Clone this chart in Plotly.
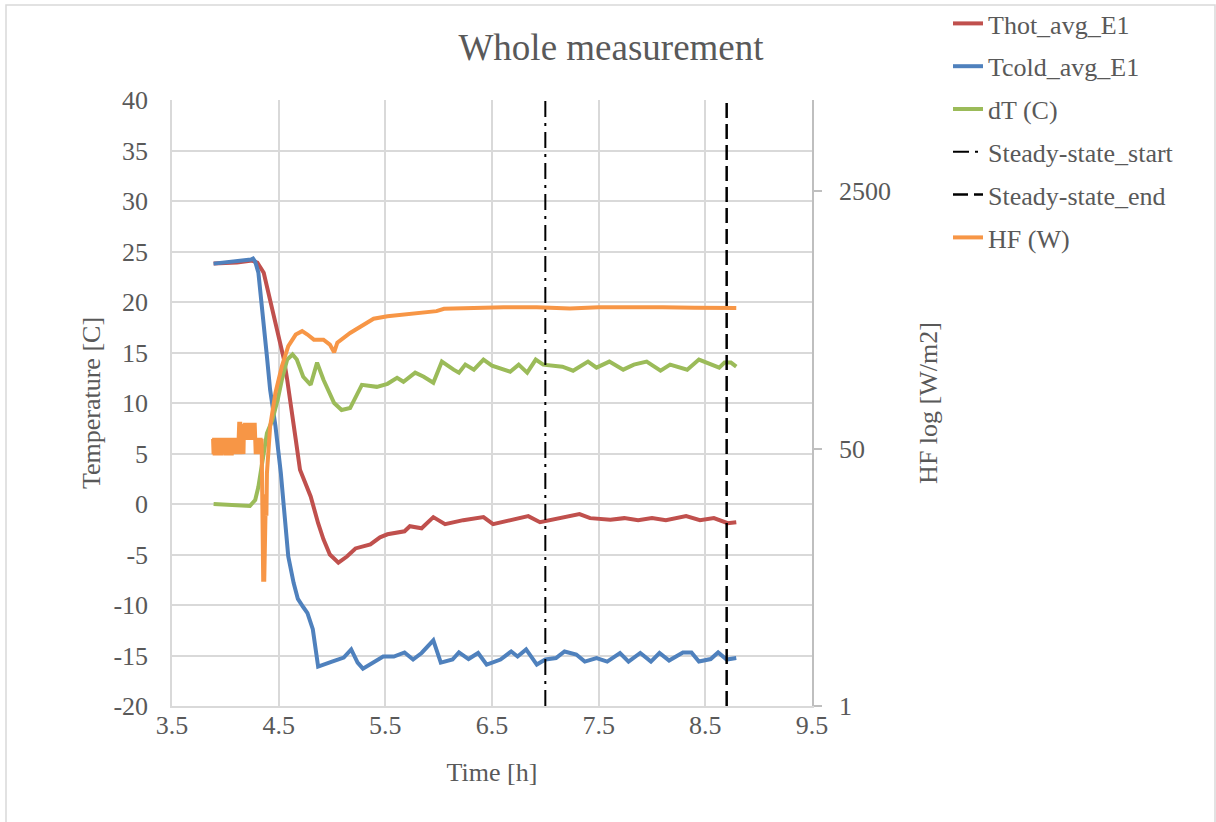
import plotly.graph_objects as go

# ---------------- data ----------------
t_hot = [3.89, 4.11, 4.25, 4.30, 4.36, 4.42, 4.49, 4.55, 4.58, 4.63, 4.66, 4.70, 4.80, 4.87, 4.92,
         4.98, 5.06, 5.14, 5.22, 5.36, 5.45, 5.52, 5.68, 5.73, 5.84, 5.95, 6.06, 6.23, 6.42, 6.51,
         6.70, 6.84, 6.95, 7.15, 7.32, 7.42, 7.61, 7.74, 7.87, 8.00, 8.13, 8.32, 8.45, 8.58, 8.71, 8.79]
thot = [23.8, 23.9, 24.1, 23.9, 22.9, 20.2, 16.9, 14.3, 12.3, 9.0, 6.4, 3.4, 0.75, -1.9, -3.5,
        -5.0, -5.8, -5.2, -4.4, -4.0, -3.3, -3.0, -2.7, -2.2, -2.4, -1.3, -2.0, -1.6, -1.3, -2.0,
        -1.5, -1.2, -1.8, -1.4, -1.0, -1.4, -1.55, -1.4, -1.6, -1.4, -1.6, -1.2, -1.6, -1.4, -1.9, -1.8]

t_cold = [3.89, 4.0, 4.1, 4.2, 4.24, 4.26, 4.28, 4.31, 4.36, 4.39, 4.42, 4.47, 4.52, 4.56, 4.59,
          4.64, 4.68, 4.73, 4.77, 4.82, 4.87, 5.0, 5.11, 5.18, 5.24, 5.29, 5.39, 5.48, 5.58, 5.68,
          5.76, 5.84, 5.95, 6.02, 6.13, 6.19, 6.28, 6.37, 6.45, 6.58, 6.68, 6.74, 6.82, 6.92, 7.0,
          7.10, 7.18, 7.29, 7.37, 7.48, 7.58, 7.70, 7.78, 7.89, 7.99, 8.07, 8.16, 8.29, 8.37, 8.44,
          8.55, 8.62, 8.70, 8.79]
tcold = [23.8, 23.9, 24.0, 24.1, 24.2, 24.3, 24.0, 22.9, 18.2, 14.6, 11.3, 7.7, 3.1, -1.9, -5.2,
         -7.8, -9.4, -10.2, -10.8, -12.4, -16.1, -15.6, -15.2, -14.4, -15.7, -16.3, -15.7, -15.1, -15.1, -14.7,
         -15.4, -14.75, -13.5, -15.7, -15.4, -14.7, -15.35, -14.75, -15.9, -15.4, -14.6, -15.1, -14.4, -15.9, -15.4,
         -15.25, -14.6, -14.9, -15.6, -15.25, -15.6, -14.75, -15.6, -14.75, -15.6, -14.75, -15.5, -14.7, -14.7, -15.6,
         -15.35, -14.7, -15.4, -15.25]

t_dt = [3.89, 4.23, 4.28, 4.31, 4.34, 4.39, 4.44, 4.49, 4.53, 4.58, 4.63, 4.67, 4.73, 4.80, 4.86,
        4.92, 5.02, 5.09, 5.17, 5.22, 5.28, 5.42, 5.52, 5.61, 5.67, 5.78, 5.86, 5.95, 6.03, 6.14,
        6.19, 6.25, 6.33, 6.42, 6.50, 6.67, 6.75, 6.83, 6.91, 6.98, 7.08, 7.16, 7.26, 7.40, 7.48,
        7.60, 7.73, 7.83, 7.95, 8.08, 8.17, 8.33, 8.44, 8.59, 8.63, 8.68, 8.74, 8.79]
dt = [0.0, -0.2, 0.4, 1.7, 3.7, 7.0, 8.3, 10.3, 12.3, 14.3, 14.8, 14.3, 12.6, 11.8, 14.0,
      12.3, 10.0, 9.3, 9.5, 10.65, 11.8, 11.6, 11.9, 12.5, 12.1, 13.0, 12.6, 12.0, 14.1, 13.3,
      13.0, 13.8, 13.3, 14.3, 13.7, 13.1, 13.8, 13.0, 14.3, 13.8, 13.7, 13.6, 13.2, 14.1, 13.5,
      14.1, 13.3, 13.8, 14.1, 13.2, 13.8, 13.3, 14.3, 13.6, 13.5, 14.0, 14.0, 13.6]

t_hf = [3.885, 3.89, 3.895, 3.90, 3.905, 3.91, 3.915, 3.92, 3.925, 3.93, 3.935, 3.94, 3.945, 3.95,
        3.955, 3.96, 3.965, 3.97, 3.975, 3.98, 3.985, 3.99, 3.995, 4.00, 4.005, 4.01, 4.015, 4.02,
        4.025, 4.03, 4.035, 4.04, 4.045, 4.05, 4.055, 4.06, 4.065, 4.07, 4.075, 4.08, 4.085, 4.09,
        4.095, 4.10, 4.105, 4.11, 4.115, 4.12, 4.125, 4.13, 4.14, 4.145, 4.15, 4.155, 4.16, 4.165, 4.17,
        4.175, 4.18, 4.185, 4.19, 4.195, 4.20, 4.205, 4.21, 4.215, 4.22, 4.225, 4.23, 4.235, 4.24,
        4.245, 4.25, 4.255, 4.26, 4.265, 4.27, 4.275,
        4.28, 4.285, 4.29, 4.295, 4.30, 4.305, 4.31, 4.315, 4.32, 4.325, 4.33, 4.335, 4.34,
        4.35, 4.355, 4.365, 4.37, 4.38, 4.385, 4.39,
        4.42, 4.47, 4.53, 4.59, 4.66, 4.72, 4.77, 4.83, 4.92, 4.98,
        5.02, 5.05, 5.17, 5.30, 5.39, 5.52, 5.67, 5.83, 5.98, 6.05,
        6.30, 6.61, 6.92, 7.23, 7.5, 7.8, 8.1, 8.4, 8.7, 8.79]
hf = [58, 46, 59, 45, 58, 46, 59, 46, 58, 45, 59, 46, 58, 46,
      59, 45, 58, 46, 59, 46, 58, 46, 59, 45, 58, 46, 59, 46,
      58, 45, 59, 46, 58, 46, 59, 45, 58, 46, 59, 46, 58, 46,
      59, 46, 58, 46, 59, 46, 58, 73, 73, 58, 46, 58, 46, 58, 46,
      73, 57, 74, 57, 74, 58, 74, 57, 74, 57, 74, 57, 74, 57,
      74, 57, 74, 57, 74, 57, 74,
      58, 46, 59, 46, 59, 46, 58, 46, 59, 46, 59, 46, 58,
      20, 6.8, 6.8, 19, 25, 18, 34.5,
      70, 117, 175, 237, 283, 298, 283, 262, 262, 243,
      216, 250, 290, 330, 360, 374, 384, 398, 404, 419,
      425, 429, 429, 421, 428, 425, 428, 426, 427, 424]

steady_start_x = [7.0, 7.0]
steady_end_x = [8.7, 8.7]
steady_y = [-20, 40]

temp_tickvals = [-20, -15, -10, -5, 0, 5, 10, 15, 20, 25, 30, 35, 40]
temp_ticktext = ["-20", "-15", "-10", "-5", "0", "5", "10", "15", "20", "25", "30", "35", "40"]
hf_tickvals = [1, 50, 2500]
hf_ticktext = ["1", "50", "2500"]

# ---------------- figure ----------------
FONT = "Liberation Serif"
GREY = "#595959"
GRID = "#d9d9d9"

fig = go.Figure()
fig.add_trace(go.Scatter(x=t_hot, y=thot, name="Thot_avg_E1", mode="lines", legendgroup="a",
                         line=dict(color="#c0504d", width=4)))
fig.add_trace(go.Scatter(x=t_cold, y=tcold, name="Tcold_avg_E1", mode="lines", legendgroup="b",
                         line=dict(color="#4f81bd", width=4)))
fig.add_trace(go.Scatter(x=t_dt, y=dt, name="dT (C)", mode="lines", legendgroup="c",
                         line=dict(color="#9bbb59", width=4)))
fig.add_trace(go.Scatter(x=steady_start_x, y=steady_y, name="Steady-state_start", mode="lines",
                         legendgroup="d",
                         line=dict(color="black", width=2, dash="16px,6px,3px,6px")))
fig.add_trace(go.Scatter(x=steady_end_x, y=steady_y, name="Steady-state_end", mode="lines",
                         legendgroup="e",
                         line=dict(color="black", width=2.5, dash="15px,6px")))
fig.add_trace(go.Scatter(x=t_hf, y=hf, name="HF (W)", mode="lines", yaxis="y2", legendgroup="f",
                         line=dict(color="#f79646", width=4)))

fig.update_layout(
    width=1216, height=822,
    margin=dict(l=172, r=404, t=100, b=116, autoexpand=False),
    paper_bgcolor="white", plot_bgcolor="white",
    font=dict(family=FONT, color=GREY, size=26),
    title=dict(text="Whole measurement", x=611 / 1216, xanchor="center", xref="container",
               y=1 - 47 / 822, yanchor="middle", yref="container",
               font=dict(family=FONT, size=37, color=GREY)),
    xaxis=dict(range=[3.5, 9.5], tick0=3.5, dtick=1, tickformat=".1f",
               showgrid=True, gridcolor=GRID, gridwidth=1.5, zeroline=False,
               showline=True, linecolor=GRID, linewidth=1.5,
               ticks="", ticklabelstandoff=-5,
               tickfont=dict(family=FONT, size=26, color=GREY),
               title=dict(text="Time [h]", standoff=24, font=dict(family=FONT, size=26, color=GREY))),
    yaxis=dict(range=[-20, 40], tickvals=temp_tickvals, ticktext=temp_ticktext,
               showgrid=True, gridcolor=GRID, gridwidth=1.5,
               zeroline=False, showline=True, linecolor=GRID, linewidth=1.5,
               ticks="", ticklabelstandoff=17,
               tickfont=dict(family=FONT, size=26, color=GREY),
               title=dict(text="Temperature [C]", standoff=5, font=dict(family=FONT, size=26, color=GREY))),
    yaxis2=dict(type="log", range=[0, 4], overlaying="y", side="right",
                tickvals=hf_tickvals, ticktext=hf_ticktext, showgrid=False, zeroline=False,
                showline=True, linecolor="#bfbfbf", linewidth=1.5,
                ticks="outside", ticklen=8, tickcolor="#bfbfbf", tickwidth=1.5,
                ticklabelstandoff=12,
                tickfont=dict(family=FONT, size=26, color=GREY),
                title=dict(text="HF log [W/m2]", standoff=29, font=dict(family=FONT, size=26, color=GREY))),
    legend=dict(x=(948 - 172) / 640, y=706 / 606, xanchor="left", yanchor="top",
                font=dict(family=FONT, size=26, color=GREY), tracegroupgap=6,
                bgcolor="rgba(0,0,0,0)"),
    showlegend=True,
    shapes=[dict(type="rect", xref="paper", yref="paper",
                 x0=(6 - 172) / 640, x1=(1215 - 172) / 640,
                 y0=(706 - 830) / 606, y1=(706 - 5) / 606,
                 line=dict(color=GRID, width=1.5), fillcolor="rgba(0,0,0,0)", layer="below")],
)

fig.write_html("out.html")
